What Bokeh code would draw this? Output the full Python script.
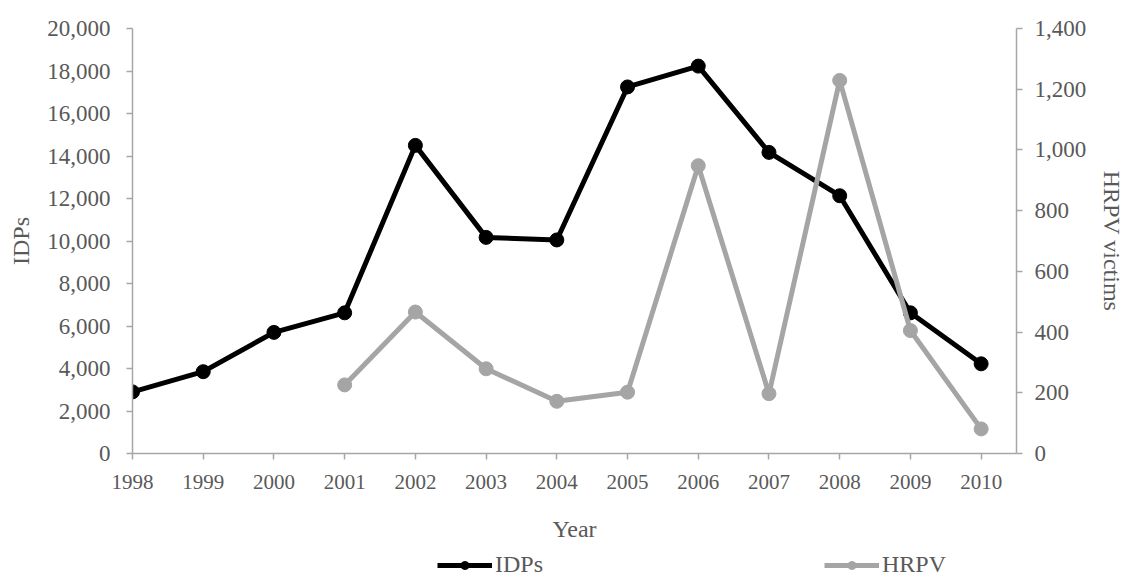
from bokeh.plotting import figure
from bokeh.layouts import column
from bokeh.models import (Range1d, LinearAxis, FixedTicker, NumeralTickFormatter,
                          Legend, LegendItem)
from bokeh.embed import file_html
from bokeh.resources import INLINE

years = [1998, 1999, 2000, 2001, 2002, 2003, 2004, 2005, 2006, 2007, 2008, 2009, 2010]
idps = [2900, 3850, 5700, 6620, 14500, 10170, 10050, 17250, 18230, 14170, 12130, 6620, 4220]
hrpv_years = [2001, 2002, 2003, 2004, 2005, 2006, 2007, 2008, 2009, 2010]
hrpv = [226, 466, 279, 172, 202, 948, 197, 1229, 405, 81]
left_ticks = [0, 2000, 4000, 6000, 8000, 10000, 12000, 14000, 16000, 18000, 20000]
right_ticks = [0, 200, 400, 600, 800, 1000, 1200, 1400]
year_labels = [str(y) for y in years]
series_names = ["IDPs", "HRPV"]

FONT = "Liberation Serif"
AXIS_GRAY = "#a6a6a6"
TEXT_GRAY = "#595959"
BLACK = "#000000"
GRAY = "#a5a5a5"

p = figure(frame_width=884, frame_height=425, output_backend="svg", toolbar_location=None,
           x_range=Range1d(1998, 2010.5), y_range=Range1d(0, 20000),
           min_border_left=132, min_border_right=100, min_border_top=28,
           min_border_bottom=0)
p.extra_y_ranges = {"hrpv": Range1d(0, 1400)}
p.outline_line_color = None
p.xgrid.grid_line_color = None
p.ygrid.grid_line_color = None
p.background_fill_color = "white"
p.border_fill_color = "white"

def style_axis(ax, size, standoff, label_standoff):
    ax.axis_line_color = AXIS_GRAY
    ax.axis_line_width = 1.5
    ax.major_tick_line_color = AXIS_GRAY
    ax.major_tick_line_width = 1.5
    ax.major_tick_in = 0
    ax.major_tick_out = 6
    ax.minor_tick_line_color = None
    ax.major_label_text_font = FONT
    ax.major_label_text_font_size = size
    ax.major_label_text_color = TEXT_GRAY
    ax.major_label_standoff = standoff
    ax.axis_label_text_font = FONT
    ax.axis_label_text_font_size = "24px"
    ax.axis_label_text_font_style = "normal"
    ax.axis_label_text_color = TEXT_GRAY
    ax.axis_label_standoff = label_standoff

xax = p.xaxis[0]
xax.ticker = FixedTicker(ticks=years)
xax.major_label_overrides = {y: lab for y, lab in zip(years, year_labels)}
xax.axis_label = "Year"
style_axis(xax, "21px", 15, 24)

yax = p.yaxis[0]
yax.ticker = FixedTicker(ticks=left_ticks)
yax.formatter = NumeralTickFormatter(format="0,0")
yax.axis_label = "IDPs"
style_axis(yax, "23px", 16, 10)

rax = LinearAxis(y_range_name="hrpv", axis_label="HRPV victims")
rax.ticker = FixedTicker(ticks=right_ticks)
rax.formatter = NumeralTickFormatter(format="0,0")
style_axis(rax, "23px", 12, 10)
p.add_layout(rax, "right")

p.line(years, idps, line_color=BLACK, line_width=5)
p.scatter(years, idps, size=14, fill_color=BLACK, line_color=BLACK)
p.line(hrpv_years, hrpv, line_color=GRAY, line_width=5, y_range_name="hrpv")
p.scatter(hrpv_years, hrpv, size=14, fill_color=GRAY, line_color=GRAY,
          y_range_name="hrpv")

# legend strip below the chart (no axes, frame fills the strip);
# its renderers hold the series but lie outside the strip's ranges
lf = figure(width=1125, height=34, output_backend="svg", toolbar_location=None,
            x_range=Range1d(0, 1), y_range=Range1d(0, 1), min_border=0,
            x_axis_location=None, y_axis_location=None)
lf.outline_line_color = None
lf.grid.grid_line_color = None
ll1 = lf.line(years, idps, line_color=BLACK, line_width=5)
ls1 = lf.scatter(years, idps, size=14, fill_color=BLACK, line_color=BLACK)
ll2 = lf.line(hrpv_years, hrpv, line_color=GRAY, line_width=5)
ls2 = lf.scatter(hrpv_years, hrpv, size=14, fill_color=GRAY, line_color=GRAY)

legend = Legend(items=[LegendItem(label=series_names[0], renderers=[ll1, ls1]),
                       LegendItem(label=series_names[1], renderers=[ll2, ls2])],
                orientation="horizontal", location=(305, 0),
                glyph_width=55, glyph_height=20, label_standoff=3,
                spacing=281, padding=2, margin=0,
                label_text_font=FONT, label_text_font_size="24px",
                label_text_color=TEXT_GRAY,
                border_line_color=None, background_fill_alpha=0)
lf.add_layout(legend, "center")

layout = column(p, lf, spacing=0)
open("out.html", "w").write(file_html(layout, INLINE))
